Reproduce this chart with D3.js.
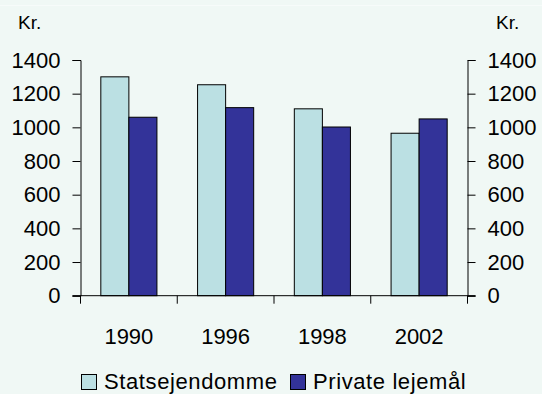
<!DOCTYPE html>
<html><head><meta charset="utf-8">
<script src="https://cdn.jsdelivr.net/npm/d3@7"></script>
<style>
html,body{margin:0;padding:0;background:#F0F8F5;}
svg{display:block;font-family:"Liberation Sans",Arial,sans-serif;}
</style></head>
<body><svg id="c" width="542" height="394"></svg>
<script>
const years = ["1990","1996","1998","2002"];
const seriesNames = ["Statsejendomme","Private lejemål"];
const statsejendomme = [1300,1253,1110,965];
const privateLejemaal = [1060,1117,1002,1050];
const yTicks = [0,200,400,600,800,1000,1200,1400];
const colors = ["#BBE0E3","#333399"];

const svg = d3.select("#c");
svg.append("rect").attr("width",542).attr("height",394).attr("fill","#F0F8F5");
svg.append("line").attr("x1",0).attr("x2",542).attr("y1",5.5).attr("y2",5.5).attr("stroke","#F7FBFA");

const pLeft = 80.5, pRight = 467.5, pTop = 60, pBottom = 295.7;
const x = d3.scaleBand().domain(years).range([pLeft,pRight]).paddingInner(0.42).paddingOuter(0.21);
const y = d3.scaleLinear().domain([0,1400]).range([pBottom,pTop]);
const xs = d3.scaleBand().domain([0,1]).range([0,x.bandwidth()]);

const data = [statsejendomme, privateLejemaal];
data.forEach((vals,si)=>{
  svg.append("g").selectAll("rect").data(vals).join("rect")
    .attr("x",(d,i)=>x(years[i])+xs(si))
    .attr("y",d=>y(d))
    .attr("width",xs.bandwidth())
    .attr("height",d=>pBottom-y(d))
    .attr("fill",colors[si])
    .attr("stroke","#000").attr("stroke-width",1);
});

const fs = 22;
const fmt = d3.format("d");
const yl = svg.append("g").attr("transform",`translate(${pLeft},0)`)
  .call(d3.axisLeft(y).tickValues(yTicks).tickFormat(fmt).tickSize(8).tickPadding(12));
const yr = svg.append("g").attr("transform",`translate(${pRight},0)`)
  .call(d3.axisRight(y).tickValues(yTicks).tickFormat(fmt).tickSize(8).tickPadding(12));
[yl,yr].forEach(g=>{
  g.select(".domain").attr("stroke","#000");
  g.selectAll(".tick line").attr("stroke","#000");
  g.selectAll("text").attr("font-size",fs).attr("fill","#000").attr("font-family","Liberation Sans, Arial, sans-serif");
});

// x axis with boundary ticks
const xa = svg.append("g");
xa.append("line").attr("x1",pLeft-8).attr("x2",pRight+8).attr("y1",pBottom).attr("y2",pBottom).attr("stroke","#000");
const bounds = years.map(d=>x(d)-x.step()*x.paddingInner()/2).concat([pRight]);
bounds[0]=pLeft;
xa.selectAll("line.t").data(bounds).join("line").attr("class","t")
  .attr("x1",d=>d).attr("x2",d=>d).attr("y1",pBottom).attr("y2",pBottom+8).attr("stroke","#000");
xa.selectAll("text").data(years).join("text")
  .attr("x",d=>x(d)+x.bandwidth()/2).attr("y",344)
  .attr("text-anchor","middle").attr("font-size",fs).attr("fill","#000").text(d=>d);

svg.append("text").attr("x",18).attr("y",29).attr("font-size",19).text("Kr.");
svg.append("text").attr("x",496).attr("y",29).attr("font-size",19).text("Kr.");

// legend
const leg = [{x:81,tx:104},{x:290,tx:313}];
seriesNames.forEach((n,i)=>{
  svg.append("rect").attr("x",leg[i].x+0.5).attr("y",374.5).attr("width",15).attr("height",15)
    .attr("fill",colors[i]).attr("stroke","#000");
  svg.append("text").attr("x",leg[i].tx).attr("y",389).attr("font-size",fs)
    .attr("letter-spacing",0.6).attr("fill","#000").text(n);
});
</script></body></html>
